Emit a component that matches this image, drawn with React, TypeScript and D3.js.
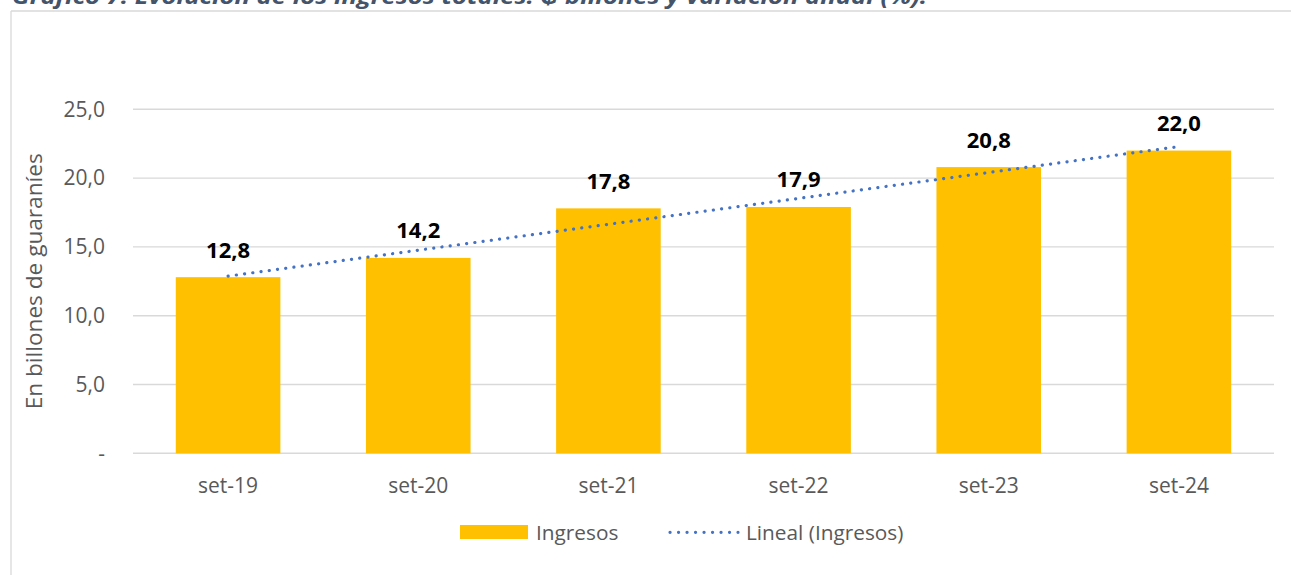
import React from "react";
import * as d3 from "d3";

const categories = ["set-19", "set-20", "set-21", "set-22", "set-23", "set-24"];
const ingresos = [12.8, 14.2, 17.8, 17.9, 20.8, 22.0];
const yTicks = [0, 5, 10, 15, 20, 25];
const titleText = "Gráfico 7. Evolución de los ingresos totales: ₲ billones y variación anual (%).";
const yAxisTitle = "En billones de guaraníes";
const legendLabels = ["Ingresos", "Lineal (Ingresos)"];

const W = 1291;
const H = 575;
const FONT = "'Open Sans', 'DejaVu Sans', sans-serif";
const GRID = "#d9d9d9";
const TXT = "#595959";
const BAR = "#FFC000";
const TREND = "#4472C4";

const fmt = (v: number) => (v === 0 ? "-" : v.toFixed(1).replace(".", ","));

export default function App() {
  const plot = { left: 133, right: 1274, top: 109.3, bottom: 453.3 };
  const x = d3.scaleBand<string>().domain(categories).range([plot.left, plot.right]).paddingInner(0.45).paddingOuter(0.225);
  const y = d3.scaleLinear().domain([0, 25]).range([plot.bottom, plot.top]);

  // linear trend (least squares) computed from data
  const xs = ingresos.map((_, i) => i + 1);
  const mx = d3.mean(xs)!;
  const my = d3.mean(ingresos)!;
  const slope = d3.sum(xs.map((xi, i) => (xi - mx) * (ingresos[i] - my))) / d3.sum(xs.map((xi) => (xi - mx) ** 2));
  const intercept = my - slope * mx;
  const trendPts: [number, number][] = categories.map((c, i) => [x(c)! + x.bandwidth() / 2, y(intercept + slope * (i + 1))]);
  const trendPath = d3.line()([trendPts[0], trendPts[trendPts.length - 1]])!;

  return (
    <svg width={W} height={H} style={{ position: "absolute", left: 0, top: 0, background: "#fff" }} fontFamily={FONT}>
      <text x={12} y={3.5} fontSize={22} fontWeight="bold" fontStyle="italic" fill="#44546A" textLength={915} lengthAdjust="spacingAndGlyphs">
        {titleText}
      </text>
      <line x1={11} y1={11} x2={W} y2={11} stroke={GRID} strokeWidth={1.3} />
      <line x1={11} y1={11} x2={11} y2={H} stroke={GRID} strokeWidth={1.3} />

      {yTicks.map((t) => (
        <g key={t}>
          <line x1={plot.left} x2={plot.right} y1={y(t)} y2={y(t)} stroke={GRID} strokeWidth={1.4} />
          <text x={105} y={y(t) + 7.3} textAnchor="end" fontSize={21} fill={TXT}>
            {fmt(t)}
          </text>
        </g>
      ))}

      <text transform={`translate(42,${(plot.top + plot.bottom) / 2}) rotate(-90)`} textAnchor="middle" fontSize={21} fill={TXT} textLength={256} lengthAdjust="spacingAndGlyphs">
        {yAxisTitle}
      </text>

      {categories.map((c, i) => (
        <g key={c}>
          <rect x={x(c)} y={y(ingresos[i])} width={x.bandwidth()} height={y(0) - y(ingresos[i])} fill={BAR} />
          <text x={x(c)! + x.bandwidth() / 2} y={y(ingresos[i]) - 19.5} textAnchor="middle" fontSize={22} fontWeight="bold" fill="#000">
            {fmt(ingresos[i])}
          </text>
          <text x={x(c)! + x.bandwidth() / 2} y={492.5} textAnchor="middle" fontSize={21} fill={TXT}>
            {c}
          </text>
        </g>
      ))}

      <path d={trendPath} stroke={TREND} strokeWidth={3.2} strokeDasharray="0.1 8.2" strokeLinecap="round" fill="none" />

      <rect x={460} y={525} width={68} height={14} fill={BAR} />
      <text x={536} y={540} fontSize={20.8} fill={TXT}>
        {legendLabels[0]}
      </text>
      <line x1={670} x2={738} y1={532.3} y2={532.3} stroke={TREND} strokeWidth={3.2} strokeDasharray="0.1 8.4" strokeLinecap="round" />
      <text x={746} y={540} fontSize={20.8} fill={TXT}>
        {legendLabels[1]}
      </text>
    </svg>
  );
}
